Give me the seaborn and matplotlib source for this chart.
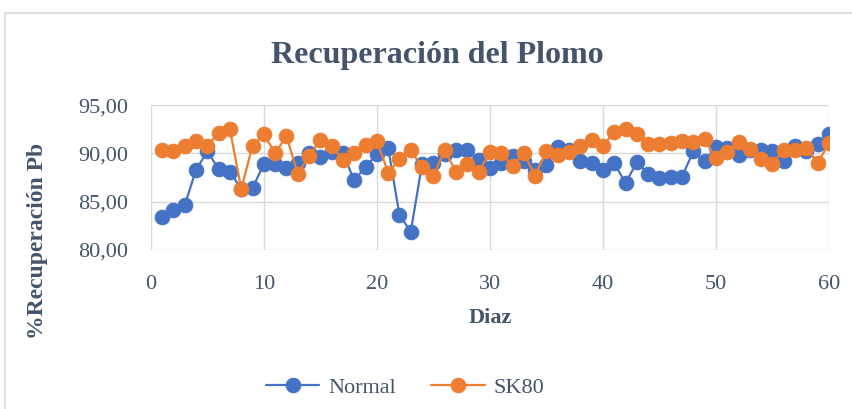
import matplotlib
matplotlib.use("Agg")
import matplotlib.pyplot as plt
from matplotlib.ticker import FuncFormatter, MultipleLocator
from matplotlib.patches import Rectangle
import seaborn as sns
import pandas as pd

# Days
dias = list(range(1, 61))

# % recovery of Pb
normal = [83.4, 84.1, 84.6, 88.3, 90.2, 88.4, 88.1, 86.3, 86.4, 88.9,
          88.9, 88.5, 89.0, 90.0, 89.6, 90.1, 90.0, 87.2, 88.6, 89.9,
          90.6, 83.6, 81.9, 88.9, 89.0, 89.9, 90.3, 90.4, 89.3, 88.5,
          89.0, 89.7, 89.2, 88.3, 88.8, 90.7, 90.3, 89.2, 89.0, 88.3,
          89.0, 86.9, 89.1, 87.9, 87.4, 87.6, 87.6, 90.2, 89.2, 90.7,
          90.6, 89.8, 90.3, 90.4, 90.2, 89.2, 90.8, 90.2, 91.0, 92.0]

sk80 = [90.4, 90.2, 90.8, 91.3, 90.8, 92.1, 92.5, 86.3, 90.8, 92.0,
        90.0, 91.8, 87.9, 89.7, 91.4, 90.8, 89.3, 90.0, 90.9, 91.3,
        88.0, 89.4, 90.3, 88.6, 87.7, 90.3, 88.1, 88.9, 88.1, 90.1,
        90.0, 88.7, 90.0, 87.7, 90.2, 89.8, 90.1, 90.8, 91.4, 90.8,
        92.2, 92.5, 92.0, 91.0, 91.0, 91.1, 91.3, 91.2, 91.5, 89.5,
        90.1, 91.2, 90.5, 89.4, 88.9, 90.4, 90.3, 90.6, 89.0, 91.1]

df = pd.DataFrame({"Diaz": dias + dias,
                   "valor": normal + sk80,
                   "serie": ["Normal"] * 60 + ["SK80"] * 60})

sns.set_style("white")
plt.rcParams['font.family'] = ['Liberation Serif', 'DejaVu Serif']

txt = '#44546A'
colores = {"Normal": "#4472C4", "SK80": "#ED7D31"}

fig = plt.figure(figsize=(8.52, 4.09), dpi=100)
ax = fig.add_axes([0.177, 0.389, 0.796, 0.354])

for s in ["Normal", "SK80"]:
    sub = df[df["serie"] == s]
    sns.lineplot(data=sub, x="Diaz", y="valor", ax=ax, color=colores[s],
                 marker='o', markersize=10.5, markeredgecolor=colores[s],
                 linewidth=1.6, label=s)

ax.set_xlim(0, 60)
ax.set_ylim(80, 95)
ax.xaxis.set_major_locator(MultipleLocator(10))
ax.yaxis.set_major_locator(MultipleLocator(5))
ax.yaxis.set_major_formatter(FuncFormatter(lambda v, p: f"{v:.2f}".replace('.', ',')))
ax.grid(True, color='#D9D9D9', linewidth=1)
ax.set_axisbelow(True)
for sp in ax.spines.values():
    sp.set_visible(False)
ax.tick_params(length=0, labelsize=16, colors=txt)
ax.tick_params(axis='y', pad=16)
ax.tick_params(axis='x', pad=18)

ax.set_xlabel("Diaz", fontsize=16, fontweight='bold', color=txt, labelpad=10)
ax.set_ylabel("")
fig.text(38 / 852, 1 - 241 / 409, "%Recuperación Pb", rotation=90, ha='center', va='center',
         fontsize=17, fontweight='bold', color=txt)
fig.text(437 / 852, 1 - 55 / 409, "Recuperación del Plomo", ha='center', va='center',
         fontsize=23, fontweight='bold', color=txt)

ax.legend(loc='upper center', bbox_to_anchor=(0.375, -0.74), ncol=2, frameon=False,
          fontsize=16, labelcolor=txt, handlelength=2.4, handletextpad=0.4, columnspacing=1.6)

fig.patches.append(Rectangle((5 / 852, -0.1), 1.2, 1.1 - 13 / 409, transform=fig.transFigure,
                             fill=False, edgecolor='#D9D9D9', linewidth=1.2))

fig.savefig("out.png", dpi=100)
